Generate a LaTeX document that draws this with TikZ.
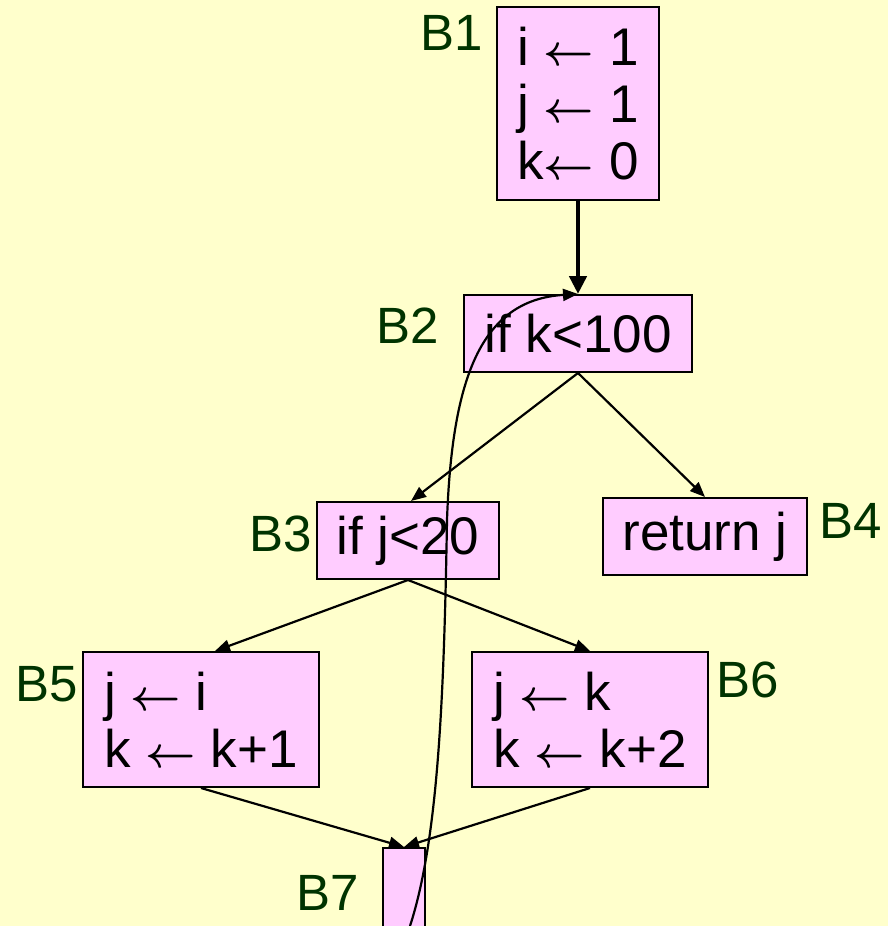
\documentclass[tikz,border=0pt]{standalone}
\usepackage{fontspec}
\usepackage{graphicx}
\setmainfont{Liberation Sans}
\usetikzlibrary{arrows.meta}
\definecolor{bgyellow}{HTML}{FFFFCC}
\definecolor{boxpink}{HTML}{FFCCFF}
\definecolor{lblgreen}{HTML}{003300}
\tikzset{
  blk/.style={draw=black, line width=2pt, fill=boxpink, inner sep=0pt, anchor=center,
    font=\fontsize{53}{57}\selectfont, align=left},
  lbl/.style={text=lblgreen, inner sep=0pt, anchor=center, font=\fontsize{51}{55}\selectfont},
  edge/.style={line width=2.2pt, -{Triangle[length=15pt,width=12pt]}},
  thick edge/.style={line width=4.8pt, -{Triangle[length=18pt,width=17pt]}}
}
\newcommand{\la}{\resizebox{0.95em}{!}{\boldmath$\leftarrow$}}
\begin{document}
\begin{tikzpicture}[x=1pt,y=-1pt]
\clip (0,0) rectangle (888,926);
\fill[bgyellow] (0,0) rectangle (888,926);
% blocks
\node[blk, minimum width=162pt, minimum height=193pt] (b1) at (578,103.5) {i \la{} 1\\j \la{} 1\\k\la{} 0};
\node[blk, minimum width=228pt, minimum height=77pt] (b2) at (578,333.5) {if k<100};
\node[blk, minimum width=182pt, minimum height=77pt] (b3) at (408,540.5) {if j<20};
\node[blk, minimum width=204pt, minimum height=77pt] (b4) at (705,536.5) {\raisebox{-4pt}{return j}};
\node[blk, minimum width=236pt, minimum height=135pt] (b5) at (201,719.5) {j \la{} i\\k \la{} k+1};
\node[blk, minimum width=236pt, minimum height=135pt] (b6) at (590,719.5) {j \la{} k\\k \la{} k+2};
\node[blk, minimum width=42pt, minimum height=110pt] (b7) at (404,903) {};
% labels
\node[lbl] (l1) at (452,33) {B1};
\node[lbl] (l2) at (408,326) {B2};
\node[lbl] (l3) at (281,534) {B3};
\node[lbl] (l4) at (851,521) {B4};
\node[lbl] (l5) at (47,684) {B5};
\node[lbl] (l6) at (748,680) {B6};
\node[lbl] (l7) at (328,893) {B7};
% edges
\draw[thick edge] (b1.south) -- (b2.north);
\draw[edge] (b2.south) -- ([xshift=3pt]b3.north);
\draw[edge] (b2.south) -- (b4.north);
\draw[edge] (b3.south) -- ([xshift=14pt]b5.north);
\draw[edge] (b3.south) -- (b6.north);
\draw[edge] (b5.south) -- (b7.north);
\draw[edge] (b6.south) -- (b7.north);
% back edge
\coordinate (loopstart) at (410,926);
\coordinate (loopmid) at (447,520);
\draw[edge] (loopstart) .. controls (438,840) and (444,700) .. (loopmid)
  .. controls (452,380) and (480,300) .. (b2.north);
\end{tikzpicture}
\end{document}
